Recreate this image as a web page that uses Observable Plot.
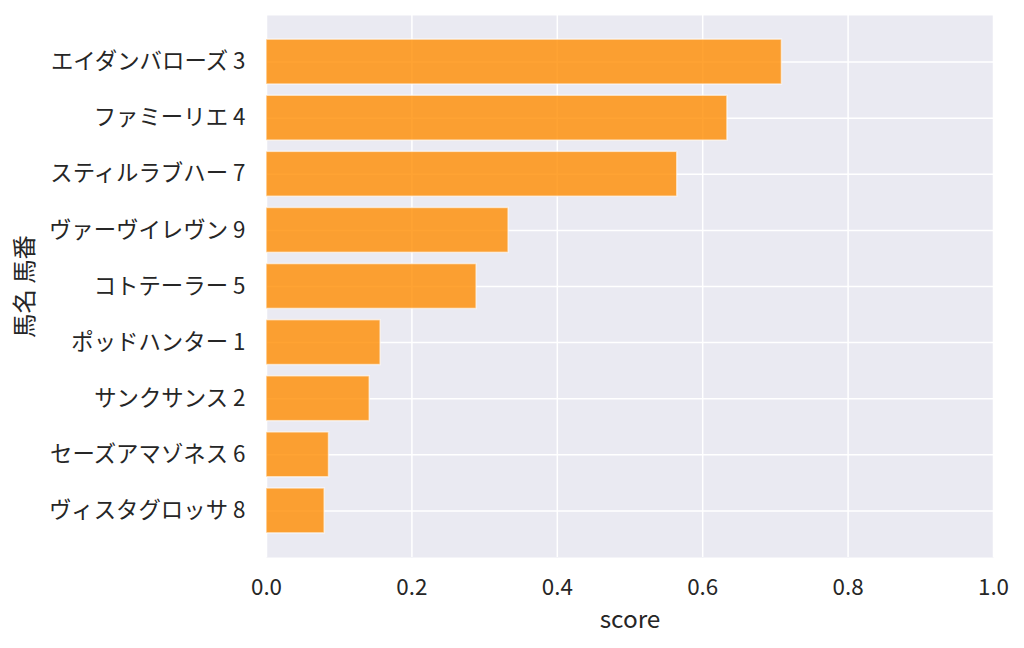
<!DOCTYPE html>
<html>
<head>
<meta charset="utf-8">
<script src="https://cdn.jsdelivr.net/npm/d3@7"></script>
<script src="https://cdn.jsdelivr.net/npm/@observablehq/plot@0.6"></script>
<style>
  html, body { margin: 0; padding: 0; background: #fff; }
  #chart svg { display: block; }
</style>
</head>
<body>
<div id="chart"></div>
<script>
const horseNames = ["エイダンバローズ", "ファミーリエ", "スティルラブハー", "ヴァーヴイレヴン", "コトテーラー", "ポッドハンター", "サンクサンス", "セーズアマゾネス", "ヴィスタグロッサ"];
const horseNumbers = [3, 4, 7, 9, 5, 1, 2, 6, 8];
const scores = [0.709, 0.634, 0.565, 0.333, 0.289, 0.157, 0.142, 0.086, 0.080];
const xTicks = [0, 0.2, 0.4, 0.6, 0.8, 1.0];
const xLabel = "score";
const yLabel = "馬名 馬番";

const labels = horseNames.map((n, i) => `${n} ${horseNumbers[i]}`);
const data = labels.map((l, i) => ({label: l, score: scores[i]}));

const textColor = "#262626";
const font = "'Noto Sans CJK JP', 'Noto Sans', sans-serif";

const chart = Plot.plot({
  width: 1024,
  height: 648,
  marginLeft: 266,
  marginRight: 31,
  marginTop: 15,
  marginBottom: 91,
  style: {fontFamily: font, color: textColor, background: "#fff"},
  x: {domain: [0, 1], ticks: xTicks, label: null},
  y: {domain: labels, paddingInner: 0.2, paddingOuter: 0.43, round: false, label: null},
  marks: [
    Plot.frame({fill: "#EAEAF2", stroke: null}),
    Plot.gridX(xTicks, {stroke: "white", strokeOpacity: 1, strokeWidth: 1.5}),
    Plot.gridY(labels, {stroke: "white", strokeOpacity: 1, strokeWidth: 1.5}),
    Plot.barX(data, {
      y: "label", x: "score",
      fill: "darkorange", fillOpacity: 0.8,
      stroke: "white", strokeOpacity: 0.6, strokeWidth: 1.5
    }),
    Plot.axisX({ticks: xTicks, tickSize: 0, tickPadding: 22, fontSize: 22.4, tickFormat: d3.format(".1f"), label: null, fill: textColor}),
    Plot.axisY({tickSize: 0, tickPadding: 21, fontSize: 22.4, label: null, fill: textColor}),
    Plot.text([xLabel], {frameAnchor: "bottom", dy: 63, lineAnchor: "middle", text: d => d, fontSize: 24.4, fill: textColor}),
    Plot.text([yLabel], {frameAnchor: "left", dx: -241, rotate: -90, textAnchor: "middle", lineAnchor: "middle", text: d => d, fontSize: 24.4, fill: textColor})
  ]
});
document.getElementById("chart").appendChild(chart);
</script>
</body>
</html>
